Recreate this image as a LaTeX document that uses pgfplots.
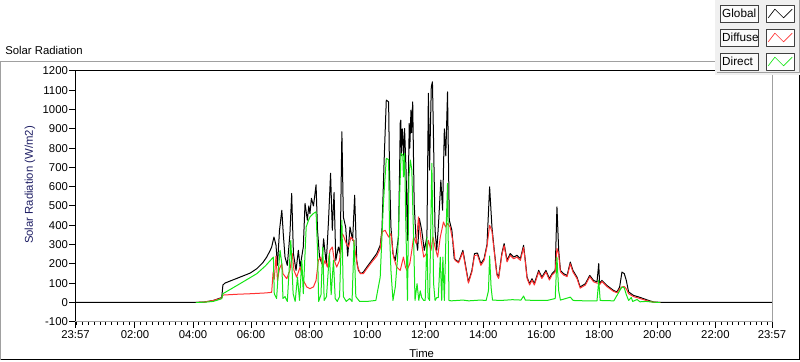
\documentclass[border=0pt]{standalone}
\usepackage{fontspec}
\setmainfont{Liberation Sans}
\usepackage{pgfplots}
\usepackage{pgfplotstable}
\pgfplotsset{compat=1.18}
\definecolor{globalc}{RGB}{0,0,0}
\definecolor{diffusec}{RGB}{255,50,50}
\definecolor{directc}{RGB}{20,230,20}
\definecolor{panelc}{RGB}{240,240,240}
\definecolor{boxc}{RGB}{250,250,250}
\definecolor{framegray}{RGB}{160,160,160}
\definecolor{ylabc}{RGB}{30,30,100}

\pgfplotstableread{
h v
-0.05 0
4.10 0
4.40 2
4.70 10
4.99 25
5.03 90
5.10 100
5.30 112
5.62 131
5.97 152
6.20 175
6.40 205
6.54 235
6.66 270
6.71 287
6.79 339
6.86 296
6.91 192
6.98 374
7.06 478
7.11 357
7.17 235
7.25 192
7.34 357
7.40 565
7.46 253
7.55 166
7.63 270
7.69 183
7.80 287
7.86 513
7.94 426
7.99 500
8.03 460
8.08 540
8.15 500
8.20 560
8.24 610
8.29 374
8.36 235
8.44 201
8.50 330
8.59 200
8.67 426
8.74 670
8.80 374
8.86 570
8.92 218
9.01 287
9.07 253
9.13 885
9.18 443
9.26 391
9.33 240
9.41 391
9.50 322
9.57 556
9.64 218
9.70 166
9.78 149
9.87 157
9.99 183
10.16 218
10.33 253
10.45 296
10.51 374
10.59 755
10.66 1049
10.74 1040
10.77 686
10.82 391
10.89 253
10.97 218
11.08 339
11.12 700
11.14 930
11.16 945
11.18 760
11.21 900
11.23 859
11.26 760
11.29 902
11.34 686
11.39 322
11.45 928
11.47 800
11.51 997
11.53 880
11.57 1040
11.62 513
11.68 339
11.74 270
11.80 435
11.88 374
11.97 270
12.06 339
12.11 1084
12.15 686
12.21 1118
12.25 1144
12.29 824
12.34 374
12.40 270
12.46 409
12.54 634
12.60 478
12.66 900
12.71 760
12.77 1092
12.83 426
12.92 374
13.00 227
13.15 209
13.30 270
13.38 201
13.49 106
13.61 166
13.70 253
13.80 256
13.92 201
14.03 227
14.13 300
14.22 599
14.30 391
14.38 270
14.47 149
14.53 131
14.64 253
14.72 305
14.82 218
14.93 253
15.05 235
15.16 244
15.28 227
15.39 296
15.45 218
15.51 131
15.60 97
15.68 123
15.76 97
15.91 166
16.02 131
16.16 166
16.28 123
16.37 149
16.48 166
16.54 495
16.60 270
16.66 166
16.77 149
16.89 140
17.00 209
17.09 166
17.23 131
17.34 80
17.52 97
17.67 140
17.80 114
17.92 106
17.98 201
18.01 97
18.09 114
18.26 88
18.49 62
18.61 54
18.70 80
18.78 157
18.86 149
18.93 114
19.01 54
19.18 36
19.36 28
19.53 19
19.70 10
19.87 2
20.10 0
23.95 0
}\globaldata

\pgfplotstableread{
h v
4.10 0
4.40 2
4.70 10
4.99 22
5.03 38
5.50 42
6.00 45
6.50 49
6.71 52
6.76 157
6.80 120
6.86 240
6.91 114
6.98 175
7.06 200
7.10 149
7.23 123
7.34 166
7.42 253
7.48 166
7.57 131
7.69 183
7.74 149
7.80 114
7.92 80
8.03 71
8.15 80
8.24 114
8.32 218
8.40 235
8.47 183
8.55 218
8.63 183
8.72 270
8.80 287
8.87 218
8.95 183
9.05 218
9.13 357
9.18 348
9.28 305
9.36 287
9.44 339
9.53 322
9.60 253
9.67 183
9.77 149
9.87 149
9.99 175
10.16 209
10.33 240
10.45 279
10.51 365
10.62 374
10.74 339
10.82 357
10.91 235
11.02 183
11.14 166
11.25 235
11.32 183
11.37 166
11.47 201
11.54 270
11.60 339
11.69 305
11.77 443
11.86 322
11.95 235
12.04 253
12.11 322
12.20 270
12.27 339
12.34 287
12.43 235
12.52 339
12.57 374
12.63 417
12.70 391
12.77 409
12.86 391
12.97 305
13.03 218
13.15 205
13.30 261
13.38 192
13.49 100
13.61 158
13.70 243
13.80 246
13.92 192
14.03 218
14.13 290
14.22 400
14.30 370
14.38 262
14.47 142
14.53 124
14.64 244
14.72 295
14.82 210
14.93 244
15.05 226
15.16 235
15.28 218
15.39 285
15.45 210
15.51 124
15.60 90
15.68 115
15.76 90
15.91 158
16.02 124
16.16 158
16.28 116
16.37 142
16.48 158
16.54 280
16.60 250
16.66 158
16.77 142
16.89 133
17.00 200
17.09 158
17.23 124
17.34 74
17.52 90
17.67 133
17.80 107
17.92 100
17.98 100
18.01 92
18.09 108
18.26 82
18.49 57
18.61 50
18.70 70
18.78 80
18.86 82
18.93 70
19.01 45
19.18 30
19.36 22
19.53 14
19.70 6
19.87 1
20.10 0
}\diffusedata

\pgfplotstableread{
h v
4.10 0
4.40 1
4.70 5
4.99 19
5.03 45
5.62 97
6.20 149
6.50 190
6.77 235
6.80 45
6.88 20
6.95 180
7.00 270
7.06 200
7.10 20
7.17 30
7.25 5
7.37 322
7.45 45
7.52 5
7.60 131
7.67 10
7.75 218
7.80 45
7.90 391
7.98 426
8.03 443
8.15 461
8.24 470
8.29 270
8.33 5
8.41 40
8.47 287
8.52 10
8.60 30
8.70 253
8.76 40
8.84 218
8.90 20
8.97 5
9.05 30
9.13 426
9.18 30
9.28 5
9.40 20
9.48 5
9.55 322
9.61 30
9.74 5
10.00 5
10.30 10
10.45 131
10.56 513
10.66 747
10.74 740
10.77 374
10.82 166
10.89 10
10.97 80
11.05 235
11.11 513
11.17 773
11.23 764
11.25 651
11.29 773
11.33 426
11.39 10
11.44 651
11.49 738
11.54 686
11.60 339
11.65 10
11.72 97
11.78 10
11.83 60
11.88 25
11.95 10
12.00 10
12.06 339
12.10 25
12.15 10
12.23 721
12.29 97
12.34 10
12.40 25
12.45 25
12.52 235
12.57 10
12.61 235
12.66 10
12.72 374
12.77 617
12.82 10
12.90 8
13.10 10
13.30 12
13.50 8
13.70 10
13.90 12
14.10 10
14.18 60
14.22 240
14.27 80
14.32 12
14.60 10
15.00 14
15.30 12
15.39 33
15.45 12
15.80 10
16.20 10
16.48 20
16.54 235
16.60 60
16.66 12
17.00 27
17.10 10
17.50 8
17.92 8
17.98 114
18.03 10
18.50 8
18.70 60
18.78 80
18.86 75
18.93 40
19.01 10
19.10 25
19.15 5
19.30 15
19.40 3
19.60 5
19.87 1
20.10 0
}\directdata

\begin{document}
\begin{tikzpicture}[font=\fontsize{8.5pt}{10pt}\selectfont]
\useasboundingbox (0,0) rectangle (600pt,270.75pt);
% outer panel frame
\draw[framegray, line width=0.75pt] (0.375pt,0.75pt) -- (0.375pt,224.6pt) -- (537.75pt,224.6pt);
\draw[black, line width=0.75pt] (0.375pt,1.125pt) -- (599.6pt,1.125pt) -- (599.6pt,216.75pt);
\node[anchor=base west, inner sep=0pt] at (3.75pt,229.5pt) {Solar Radiation};
\begin{axis}[
  at={(56.6pt,29.5pt)}, anchor=south west,
  scale only axis, width=522.4pt, height=188pt,
  xmin=-0.05, xmax=23.95, ymin=-100, ymax=1200,
  axis line style={draw=none},
  tick pos=left, tick align=outside,
  major tick length=4.5pt, minor tick length=2.25pt,
  every tick/.style={black, line width=0.75pt},
  xtick={-0.05,2,4,6,8,10,12,14,16,18,20,22,23.95},
  xticklabels={23:57,02:00,04:00,06:00,08:00,10:00,12:00,14:00,16:00,18:00,20:00,22:00,23:57},
  minor xtick={0,0.2,...,23.85},
  ytick={-100,0,100,...,1200},
  /pgf/number format/assume math mode=true,
  /pgf/number format/1000 sep={},
  yticklabel style={inner xsep=1pt},
  xticklabel style={inner ysep=2pt},
  xlabel={Time}, ylabel={Solar Radiation (W/m2)},
  xlabel style={at={(axis description cs:0.497,-0.125)}, anchor=center},
  ylabel style={at={(axis description cs:-0.0653,0.545)}, anchor=center, color=ylabc},
  legend plot pos=right,
  legend cell align=left,
  legend style={
    at={(axis description cs:1.0402,1.2832)}, anchor=north east,
    draw=none, fill=panelc,
    inner xsep=3.75pt, inner ysep=3.4pt,
    row sep=4.5pt, column sep=5.25pt,
    font=\fontsize{8.8pt}{10pt}\selectfont,
    nodes={draw=black!75, fill=boxc, line width=0.75pt,
           text width=25.5pt, minimum height=12.75pt, inner xsep=1.5pt, inner ysep=0pt, align=left},
  },
  legend image code/.code={
    \draw[draw=black!75, fill=white, line width=0.75pt, solid] (0pt,-6.375pt) rectangle (21pt,6.375pt);
    \draw[line width=0.5pt] (1.5pt,-3pt) -- (6.5pt,3.5pt) -- (13pt,-3pt) -- (19.5pt,3.5pt);
  },
  after end axis/.code={
    \draw[black, line width=0.75pt] (rel axis cs:0,0) -- (rel axis cs:0,1) -- (rel axis cs:1,1);
    \draw[framegray, line width=0.75pt] (rel axis cs:1,1) -- (rel axis cs:1,0) -- (rel axis cs:0,0);
  },
]
\addplot[globalc, line width=0.75pt, line join=round] table[x=h,y=v] {\globaldata};
\addplot[diffusec, line width=0.75pt, line join=round] table[x=h,y=v] {\diffusedata};
\addplot[directc, line width=0.75pt, line join=round] table[x=h,y=v] {\directdata};
\legend{Global,Diffuse,Direct}
\end{axis}
\draw[framegray, line width=0.75pt] (599.6pt,270.75pt) -- (599.6pt,216.4pt) -- (537.75pt,216.4pt);
\end{tikzpicture}
\end{document}
